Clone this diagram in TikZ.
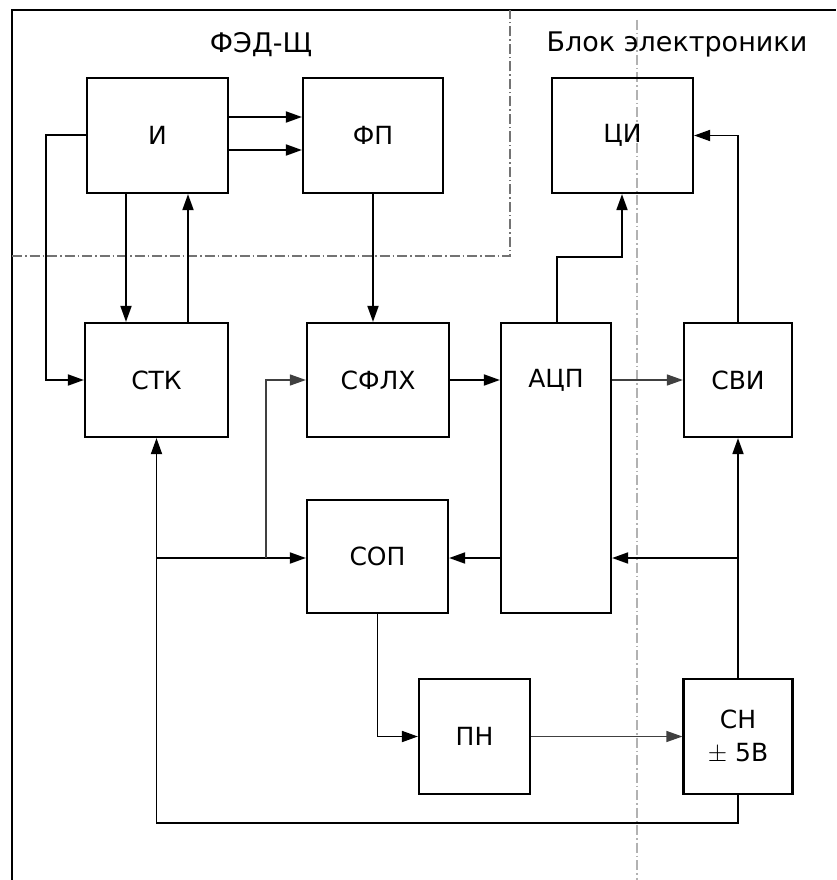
\documentclass[tikz,border=0pt]{standalone}
\usepackage{fontspec}
\setmainfont{DejaVu Sans}
\usetikzlibrary{arrows.meta}
\begin{document}
\begin{tikzpicture}[x=1pt,y=-1pt,
  blk/.style={draw=black, line width=2.2pt, inner sep=0pt, font=\fontsize{25}{33}\selectfont, align=center},
  arr/.style={draw=black, line width=1.8pt, -{Triangle[length=16pt,width=11pt]}},
  thinarr/.style={arr, draw=black!75, line width=1.3pt},
  zone/.style={draw=black!55, line width=1.1pt, dash pattern=on 10pt off 3pt on 1.5pt off 3pt},
  title/.style={font=\fontsize{27}{32}\selectfont, inner sep=0pt}]
\useasboundingbox (0,0) rectangle (836,880);
\fill[white] (0,0) rectangle (836,880);

% frame and zones
\draw[black, line width=2.2pt] (12,880) -- (12,10) -- (836,10);
\draw[zone] (12,256) -- (510,256) -- (510,10);
\draw[zone, draw=black!30] (637,20) -- (637,880);

\node[title] (t1) at (261,45) {ФЭД-Щ};
\node[title] (t2) at (677,44) {Блок электроники};

% blocks
\node[blk, minimum width=141pt, minimum height=115pt] (I) at (157.5,135.5) {И};
\node[blk, minimum width=140pt, minimum height=115pt] (FP) at (373,135.5) {ФП};
\node[blk, minimum width=141pt, minimum height=115pt] (CI) at (622.5,135.5) {ЦИ};
\node[blk, minimum width=143pt, minimum height=114pt] (STK) at (156.5,380) {СТК};
\node[blk, minimum width=142pt, minimum height=114pt] (SFLX) at (378,380) {СФЛХ};
\node[blk, minimum width=110pt, minimum height=290pt] (ADC) at (556,468) {};
\node[font=\fontsize{25}{33}\selectfont] (ADCt) at (556,380) {АЦП};
\node[blk, minimum width=108pt, minimum height=114pt] (SVI) at (738,380) {СВИ};
\node[blk, minimum width=141pt, minimum height=113pt] (SOP) at (377.5,556.5) {СОП};
\node[blk, minimum width=111pt, minimum height=115pt] (PN) at (474.5,736.5) {ПН};
\node[blk, minimum width=109pt, minimum height=115pt] (SN) at (738,736.5) {СН\\$\pm$ 5В};

% junction points
\coordinate (jA) at (156.5,558);
\coordinate (jB) at (266,558);
\coordinate (jC) at (738,558);
\coordinate (bl) at (738,823);

% connectors
\draw[arr] (I.east |- 0,117) -- (FP.west |- 0,117);
\draw[arr] (I.east |- 0,150) -- (FP.west |- 0,150);
\draw[arr] (I.west |- 0,135) -| (46,380) -- (STK.west);
\draw[arr] (I.south -| 126,0) -- (STK.north -| 126,0);
\draw[arr] (STK.north -| 188,0) -- (I.south -| 188,0);
\draw[arr] (FP.south) -- (SFLX.north -| FP.south);
\draw[arr] (SFLX.east) -- (ADC.west |- SFLX.east);
\draw[arr] (ADC.north -| 557,0) |- (622,257) -- (CI.south -| 622,0);
\draw[arr] (SVI.north) |- (CI.east);
\draw[thinarr] (ADC.east |- SVI.west) -- (SVI.west);
\draw[arr] (SN.north) -- (SVI.south);
\draw[arr] (jC) -- (ADC.east |- jC);
\draw[arr] (ADC.west |- jC) -- (SOP.east |- jC);
\draw[arr] (SN.south) -- (bl) -| (STK.south);
\draw[arr] (jA) -- (SOP.west |- jA);
\draw[thinarr] (jB) |- (SFLX.west);
\draw[arr] (SOP.south) |- (PN.west);
\draw[thinarr] (PN.east) -- (SN.west);
\end{tikzpicture}
\end{document}
